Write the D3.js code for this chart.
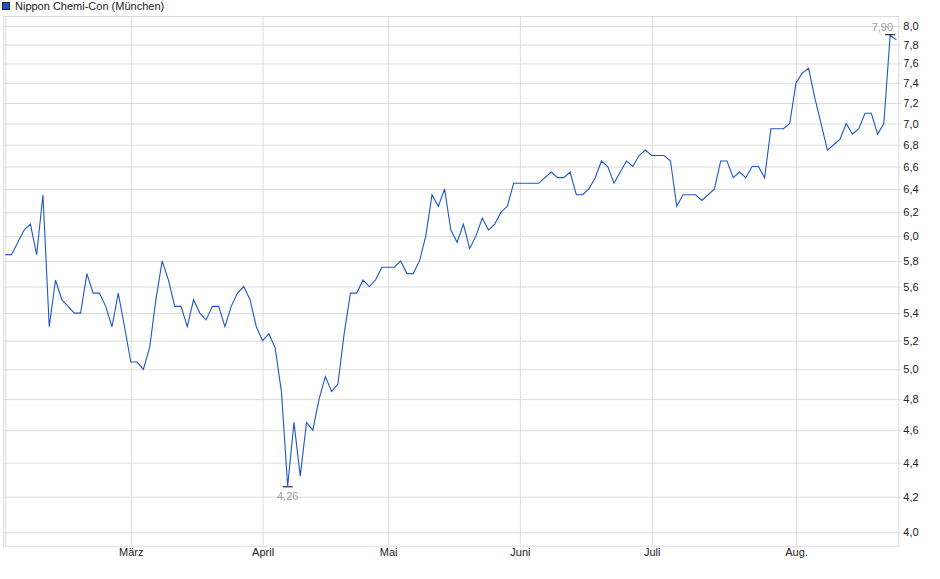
<!DOCTYPE html>
<html>
<head>
<meta charset="utf-8">
<script src="https://cdn.jsdelivr.net/npm/d3@7/dist/d3.min.js"></script>
<style>
  html, body { margin: 0; padding: 0; background: #fff; }
  svg { display: block; font-family: "Liberation Sans", Arial, sans-serif; }
</style>
</head>
<body>
<svg id="chart" width="940" height="579"></svg>
<script>
// ---- data ----
const seriesName = "Nippon Chemi-Con (München)";
// daily closing prices (trading-day index 0 = 3 Feb)
const prices = [
  5.85, 5.85, 5.95, 6.05, 6.10, 5.85, 6.35, 5.30, 5.65, 5.50,
  5.45, 5.40, 5.40, 5.70, 5.55, 5.55, 5.45, 5.30, 5.55, 5.30,
  5.05, 5.05, 5.00, 5.15, 5.50, 5.80, 5.65, 5.45, 5.45, 5.30,
  5.50, 5.40, 5.35, 5.45, 5.45, 5.30, 5.45, 5.55, 5.60, 5.50,
  5.30, 5.20, 5.25, 5.15, 4.85, 4.26, 4.65, 4.32, 4.65, 4.60,
  4.80, 4.95, 4.85, 4.90, 5.25, 5.55, 5.55, 5.65, 5.60, 5.65,
  5.75, 5.75, 5.75, 5.80, 5.70, 5.70, 5.80, 6.00, 6.35, 6.25,
  6.40, 6.05, 5.95, 6.10, 5.90, 6.00, 6.15, 6.05, 6.10, 6.20,
  6.25, 6.45, 6.45, 6.45, 6.45, 6.45, 6.50, 6.55, 6.50, 6.50,
  6.55, 6.35, 6.35, 6.40, 6.50, 6.65, 6.60, 6.45, 6.55, 6.65,
  6.60, 6.70, 6.75, 6.70, 6.70, 6.70, 6.65, 6.25, 6.35, 6.35,
  6.35, 6.30, 6.35, 6.40, 6.65, 6.65, 6.50, 6.55, 6.50, 6.60,
  6.60, 6.50, 6.95, 6.95, 6.95, 7.00, 7.40, 7.50, 7.55, 7.25,
  7.00, 6.75, 6.80, 6.85, 7.00, 6.90, 6.95, 7.10, 7.10, 6.90,
  7.00, 7.90, 7.85
];
// month ticks: first trading day index of each month
const monthTickIndex  = [0, 20, 41, 61, 82, 103, 126];
const monthTickLabels = ["", "März", "April", "Mai", "Juni", "Juli", "Aug."];
const yTicks = [4.0, 4.2, 4.4, 4.6, 4.8, 5.0, 5.2, 5.4, 5.6, 5.8, 6.0,
                6.2, 6.4, 6.6, 6.8, 7.0, 7.2, 7.4, 7.6, 7.8, 8.0];

// ---- layout ----
const frame = { left: 3, right: 898.3, top: 16, bottom: 545.7 };
const lineColor = "#1c57c8";
const gridColor = "#dcdcdc";
const comma = v => d3.format(".2f")(v).replace(".", ",");
const comma1 = v => d3.format(".1f")(v).replace(".", ",");

const svg = d3.select("#chart");

const x = d3.scaleLinear().domain([0, prices.length - 1]).range([5.3, 896.4]);
const y = d3.scaleLog().domain([4, 8]).range([532.3, 26]);

// frame
svg.append("rect")
  .attr("x", frame.left + 0.5).attr("y", frame.top + 0.5)
  .attr("width", frame.right - frame.left).attr("height", frame.bottom - frame.top)
  .attr("fill", "#fff").attr("stroke", gridColor).attr("stroke-width", 1);

// horizontal grid + right axis
const yAxis = d3.axisRight(y)
  .tickValues(yTicks)
  .tickFormat(comma1)
  .tickSize(-(frame.right - frame.left))
  .tickPadding(6);
const gy = svg.append("g")
  .attr("transform", `translate(${frame.right + 3},0)`)
  .call(yAxis);
gy.select(".domain").remove();
gy.selectAll(".tick line")
  .attr("stroke", gridColor)
  .attr("x1", 0)
  .attr("x2", -(frame.right + 3 - frame.left));
gy.selectAll(".tick text")
  .attr("x", 2)
  .attr("fill", "#222")
  .style("font-size", "11px")
  .style("font-family", "'Liberation Sans', Arial, sans-serif");

// vertical grid + bottom axis
const xAxis = d3.axisBottom(x)
  .tickValues(monthTickIndex)
  .tickFormat((d, i) => monthTickLabels[i])
  .tickSize(-(frame.bottom - frame.top))
  .tickPadding(3);
const gx = svg.append("g")
  .attr("transform", `translate(0,${frame.bottom})`)
  .call(xAxis);
gx.select(".domain").remove();
gx.selectAll(".tick line").attr("stroke", gridColor);
gx.selectAll(".tick text")
  .attr("fill", "#222")
  .style("font-size", "11px")
  .style("font-family", "'Liberation Sans', Arial, sans-serif");

// price line
const line = d3.line()
  .x((d, i) => x(i))
  .y(d => y(d));
svg.append("path")
  .datum(prices)
  .attr("fill", "none")
  .attr("stroke", lineColor)
  .attr("stroke-width", 1.1)
  .attr("d", line);

// min / max markers
const maxV = d3.max(prices), minV = d3.min(prices);
const maxI = prices.indexOf(maxV), minI = prices.indexOf(minV);

svg.append("line")
  .attr("x1", x(maxI) - 5).attr("x2", x(maxI) + 5)
  .attr("y1", y(maxV) - 0.5).attr("y2", y(maxV) - 0.5)
  .attr("stroke", "#000").attr("stroke-width", 1);
svg.append("text")
  .attr("x", x(maxI) + 3).attr("y", y(maxV) - 4)
  .attr("text-anchor", "end")
  .attr("fill", "#a0a0a0")
  .style("font-size", "11px")
  .text(comma(maxV));

svg.append("line")
  .attr("x1", x(minI) - 5).attr("x2", x(minI) + 5)
  .attr("y1", y(minV) + 0.5).attr("y2", y(minV) + 0.5)
  .attr("stroke", "#000").attr("stroke-width", 1);
svg.append("text")
  .attr("x", x(minI)).attr("y", y(minV) + 14)
  .attr("text-anchor", "middle")
  .attr("fill", "#a0a0a0")
  .style("font-size", "11px")
  .text(comma(minV));

// legend
svg.append("rect")
  .attr("x", 2.5).attr("y", 2.5).attr("width", 7).attr("height", 7)
  .attr("fill", lineColor).attr("stroke", "#222").attr("stroke-width", 1);
svg.append("text")
  .attr("x", 15).attr("y", 10)
  .attr("fill", "#222")
  .style("font-size", "11px")
  .text(seriesName);
</script>
</body>
</html>
